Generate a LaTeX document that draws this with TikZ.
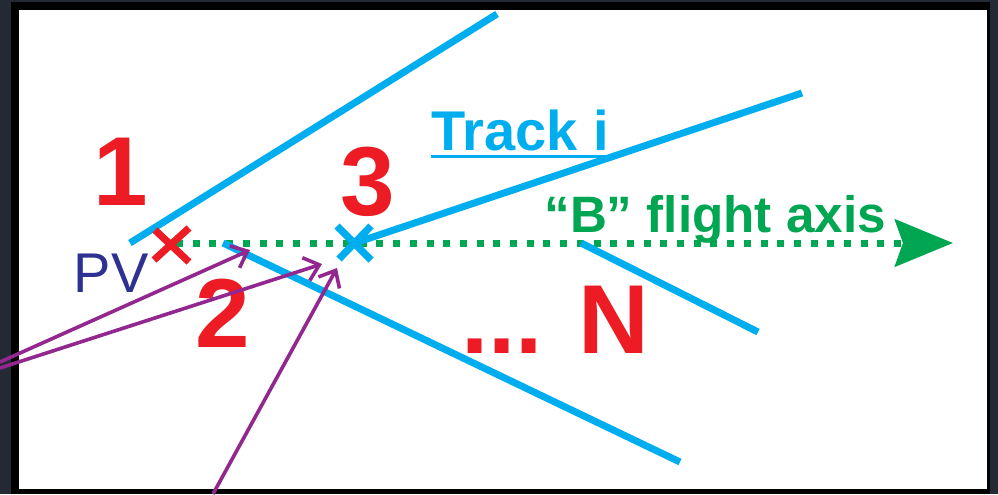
\documentclass[tikz,border=0pt]{standalone}
\usepackage{fontspec}
\setmainfont{Liberation Sans}
\usepackage{tikz}
\usetikzlibrary{arrows.meta,positioning,calc}
\definecolor{trk}{HTML}{00AEEF}
\definecolor{vtx}{HTML}{ED1C24}
\definecolor{bflight}{HTML}{00A651}
\definecolor{pvblue}{HTML}{2E3192}
\definecolor{ptrc}{HTML}{92278F}
\definecolor{slate}{HTML}{232A33}
\tikzset{
  track/.style={draw=trk,line width=3.5pt},
  cross/.style={line width=3.6pt},
  digit/.style={text=vtx,font=\fontsize{49}{49}\selectfont\bfseries,inner sep=0pt,anchor=base},
  lbl/.style={inner sep=0pt,anchor=base west,font=\fontsize{28}{28}\selectfont\bfseries},
  flightaxis/.style={draw=bflight,line width=3.5pt,dash pattern=on 3.5pt off 4.85pt,
    -{Stealth[length=29pt,width=23.5pt,inset=4pt]}},
  ptr/.style={draw=ptrc,line width=1.8pt,-{Straight Barb[length=7pt,width=12pt]}}
}

\begin{document}
\begin{tikzpicture}[x=0.5pt,y=-0.5pt]
 \useasboundingbox (0,0) rectangle (998,494);
 % frame
 \fill[slate] (0,0) rectangle (998,494);
 \fill[black] (11,2) rectangle (990,494);
 \fill[white] (19,10) rectangle (987,489);
 % vertices
 \coordinate (pv) at (172,245);
 \coordinate (sv) at (354,243);
 \coordinate (axend) at (953,243);
 % flight axis
 \draw[flightaxis] (176,243) -- (axend);
 % tracks
 \draw[track] (130,243) -- (497,14);
 \draw[track] (802,93) -- (358,242);
 \draw[track] (223,243) -- (680,462);
 \draw[track] (581,243) -- (758,332);
 % crosses
 \draw[vtx,cross] ($(pv)+(-17,-15)$) -- ($(pv)+(17,17)$) ($(pv)+(17,-17)$) -- ($(pv)+(-18,15)$);
 \draw[trk,cross] ($(sv)+(-17,-17)$) -- ($(sv)+(17,17)$) ($(sv)+(17,-17)$) -- ($(sv)+(-15,16)$);
 % labels
 \node[digit] (n1) at (121,205) {1};
 \node[digit] (n2) at (223,347) {2};
 \node[digit] (n3) at (368,215) {3};
 \node[digit,anchor=base west] (nN) at (461,353) {...\ \kern4pt N};
 \node[lbl,anchor=base,font=\fontsize{28}{28}\selectfont,text=pvblue] (pvl) at (111,292) {PV};
 \node[lbl,text=trk] (ti) at (431,150) {Track i};
 \draw[trk,line width=1.5pt] ([yshift=-3pt]ti.base west) -- ([yshift=-3pt]ti.base east);
 \node[lbl,text=bflight,font=\fontsize{25.6}{26}\selectfont\bfseries] (bl) at (544,232) {“B” flight axis};
 % pointers
 \coordinate (tailA) at (0,362);
 \coordinate (tailB) at (0,368);
 \coordinate (tailC) at (213,494);
 \coordinate (tipA) at (250,250);
 \coordinate (tipB) at (322,264);
 \coordinate (tipC) at (337,268);
 \draw[ptr] (tailA) -- (tipA);
 \draw[ptr] (tailB) -- (tipB);
 \draw[ptr] (tailC) -- (tipC);
\end{tikzpicture}
\end{document}
